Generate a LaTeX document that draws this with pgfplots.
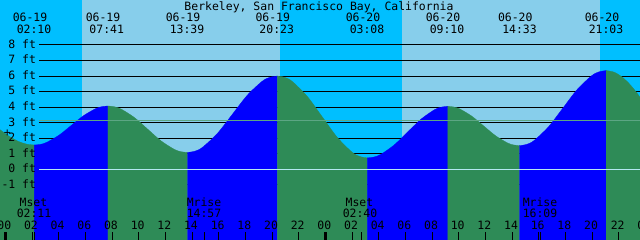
\documentclass[border=0pt]{standalone}
\usepackage{pgfplots}
\pgfplotsset{compat=1.18}
\usepackage{fontspec}
\setmainfont{DejaVu Sans Mono}
\definecolor{nightsky}{HTML}{00BFFF}
\definecolor{daysky}{HTML}{87CEEB}
\definecolor{flood}{HTML}{0000FF}
\definecolor{ebb}{HTML}{2E8B57}
\definecolor{zeroline}{HTML}{B4E8F2}
\definecolor{meanline}{RGB}{92,166,132}
\begin{document}
\begin{tikzpicture}
\begin{axis}[at={(0,0)},anchor=south west,scale only axis,width=640bp,height=240bp,
  xmin=-0.4124,xmax=47.5816,ymin=-4.555,ymax=10.894,hide axis,clip=true]
% sky: night / day
\addplot[fill=nightsky,draw=none] coordinates {(-1,-6) (-1,12) (5.71,12) (5.71,-6)} -- cycle;
\addplot[fill=daysky,draw=none] coordinates {(5.71,-6) (5.71,12) (20.58,12) (20.58,-6)} -- cycle;
\addplot[fill=nightsky,draw=none] coordinates {(20.58,-6) (20.58,12) (29.71,12) (29.71,-6)} -- cycle;
\addplot[fill=daysky,draw=none] coordinates {(29.71,-6) (29.71,12) (44.58,12) (44.58,-6)} -- cycle;
\addplot[fill=nightsky,draw=none] coordinates {(44.58,-6) (44.58,12) (49,12) (49,-6)} -- cycle;
% depth lines
\addplot[black,line width=1bp] coordinates {(2.512,8) (49,8)};
\addplot[black,line width=1bp] coordinates {(2.512,7) (49,7)};
\addplot[black,line width=1bp] coordinates {(2.512,6) (49,6)};
\addplot[black,line width=1bp] coordinates {(2.512,5) (49,5)};
\addplot[black,line width=1bp] coordinates {(2.512,4) (49,4)};
\addplot[black,line width=1bp] coordinates {(2.512,3) (49,3)};
\addplot[black,line width=1bp] coordinates {(2.512,2) (49,2)};
\addplot[black,line width=1bp] coordinates {(2.512,1) (49,1)};
\addplot[black,line width=1bp] coordinates {(2.512,-1) (49,-1)};
% tide: falling (green) and rising (blue)
\addplot[fill=ebb,draw=ebb,line width=0.3bp,smooth] coordinates {(-0.819,2.835) (-0.222,2.42) (0.375,2.064) (0.9725,1.790) (1.570,1.619) (2.167,1.56)} |- (axis cs:-0.819,-10) -- cycle;
\addplot[fill=flood,draw=flood,line width=0.3bp,smooth] coordinates {(2.167,1.56) (2.627,1.603) (3.086,1.728) (4.006,2.188) (4.925,2.815) (5.844,3.443) (6.764,3.902) (7.223,4.027) (7.683,4.07)} |- (axis cs:2.167,-10) -- cycle;
\addplot[fill=ebb,draw=ebb,line width=0.3bp,smooth] coordinates {(7.683,4.07) (8.180,4.019) (8.678,3.870) (9.672,3.323) (10.667,2.575) (11.661,1.828) (12.656,1.280) (13.153,1.131) (13.65,1.08)} |- (axis cs:7.683,-10) -- cycle;
\addplot[fill=flood,draw=flood,line width=0.3bp,smooth] coordinates {(13.65,1.08) (14.211,1.164) (14.772,1.410) (15.894,2.310) (17.017,3.540) (18.139,4.770) (19.261,5.670) (19.822,5.916) (20.383,6.00)} |- (axis cs:13.65,-10) -- cycle;
\addplot[fill=ebb,draw=ebb,line width=0.3bp,smooth] coordinates {(20.383,6.00) (20.946,5.910) (21.508,5.647) (22.633,4.683) (23.758,3.365) (24.883,2.048) (26.008,1.083) (26.571,0.820) (27.133,0.73)} |- (axis cs:20.383,-10) -- cycle;
\addplot[fill=flood,draw=flood,line width=0.3bp,smooth] coordinates {(27.133,0.73) (27.636,0.787) (28.139,0.952) (29.144,1.560) (30.150,2.390) (31.156,3.220) (32.161,3.828) (32.664,3.993) (33.167,4.05)} |- (axis cs:27.133,-10) -- cycle;
\addplot[fill=ebb,draw=ebb,line width=0.3bp,smooth] coordinates {(33.167,4.05) (33.616,4.007) (34.064,3.881) (34.961,3.418) (35.859,2.785) (36.756,2.153) (37.653,1.689) (38.101,1.563) (38.55,1.52)} |- (axis cs:33.167,-10) -- cycle;
\addplot[fill=flood,draw=flood,line width=0.3bp,smooth] coordinates {(38.55,1.52) (39.092,1.602) (39.633,1.844) (40.717,2.728) (41.80,3.935) (42.883,5.143) (43.967,6.026) (44.508,6.268) (45.05,6.35)} |- (axis cs:38.55,-10) -- cycle;
\addplot[fill=ebb,draw=ebb,line width=0.3bp,smooth] coordinates {(45.05,6.35) (45.629,6.250) (46.208,5.958) (46.788,5.493) (47.367,4.888) (47.946,4.182)} |- (axis cs:45.05,-10) -- cycle;
% zero line and mean line
\addplot[zeroline,line width=1bp] coordinates {(2.512,0) (49,0)};
\addplot[meanline,line width=1bp] coordinates {(2.512,3.153) (49,3.153)};
\end{axis}
\begin{scope}[x=1bp,y=1bp,every node/.style={font=\fontsize{11.5}{13}\selectfont,inner sep=0pt,outer sep=0pt}]
\clip (0,0) rectangle (640,240);
\node[anchor=base] at (319,230) {Berkeley, San Francisco Bay, California};
% event labels
\node[anchor=base] at (30,218.3) {06-19};   \node[anchor=base] at (34,206.7) {02:10};
\node[anchor=base] at (103,218.3) {06-19};  \node[anchor=base] at (106.7,206.7) {07:41};
\node[anchor=base] at (183,218.3) {06-19};  \node[anchor=base] at (187,206.7) {13:39};
\node[anchor=base] at (272.8,218.3) {06-19};\node[anchor=base] at (276.7,206.7) {20:23};
\node[anchor=base] at (363,218.3) {06-20};  \node[anchor=base] at (367,206.7) {03:08};
\node[anchor=base] at (443,218.3) {06-20};  \node[anchor=base] at (447,206.7) {09:10};
\node[anchor=base] at (515.3,218.3) {06-20};\node[anchor=base] at (519.5,206.7) {14:33};
\node[anchor=base] at (602,218.3) {06-20};  \node[anchor=base] at (606,206.7) {21:03};
% depth labels
\node[anchor=base east] at (36,191.7) {8 ft};
\node[anchor=base east] at (36,176.2) {7 ft};
\node[anchor=base east] at (36,160.6) {6 ft};
\node[anchor=base east] at (36,145.1) {5 ft};
\node[anchor=base east] at (36,129.6) {4 ft};
\node[anchor=base east] at (36,114.0) {3 ft};
\node[anchor=base east] at (36,98.5) {2 ft};
\node[anchor=base east] at (36,82.9) {1 ft};
\node[anchor=base east] at (36,67.4) {0 ft};
\node[anchor=base east] at (36,51.9) {-1 ft};
\node at (7.3,106.7) {+};
% moon events
\node[anchor=base] at (33.5,33.3) {Mset};   \node[anchor=base] at (34,22.7) {02:11};
\node[anchor=base] at (204,33.3) {Mrise};   \node[anchor=base] at (204,22.7) {14:57};
\node[anchor=base] at (359.5,33.3) {Mset};  \node[anchor=base] at (360,22.7) {02:40};
\node[anchor=base] at (540,33.3) {Mrise};   \node[anchor=base] at (540,22.7) {16:09};
% hour labels
\foreach \h/\t in {0/00,2/02,4/04,6/06,8/08,10/10,12/12,14/14,16/16,18/18,20/20,22/22,24/00,26/02,28/04,30/06,32/08,34/10,36/12,38/14,40/16,42/18,44/20,46/22,48/00}
  \node[anchor=base] at ({4.3+13.335*\h},11) {\t};
% hour ticks
\foreach \h in {2,4,...,22,26,28,...,46}
  \draw[black,line width=1bp] ({5.5+13.335*\h},0) -- ({5.5+13.335*\h},8.3);
\foreach \h in {0,24,48}
  \draw[black,line width=2.5bp] ({5.5+13.335*\h},0) -- ({5.5+13.335*\h},8.3);
\foreach \h in {2.183,14.95,26.667,40.15}
  \draw[black,line width=1bp] ({5.5+13.335*\h},0) -- ({5.5+13.335*\h},8.3);
\end{scope}
\pgfresetboundingbox
\useasboundingbox (0,0) rectangle (640bp,240bp);
\end{tikzpicture}
\end{document}
